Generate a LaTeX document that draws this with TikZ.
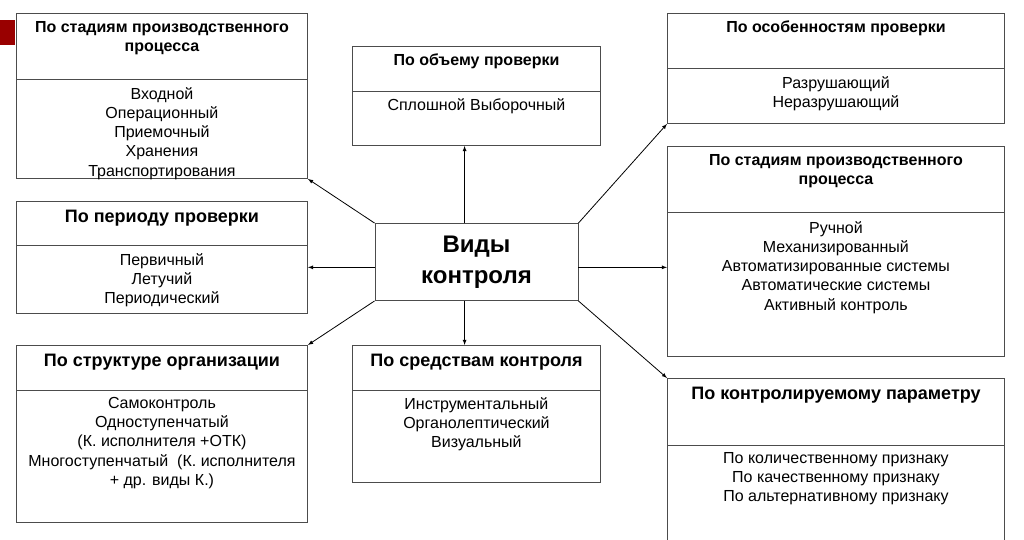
\documentclass[tikz,border=0pt]{standalone}
\usepackage{fontspec}
\setmainfont{Liberation Sans}
\usetikzlibrary{arrows,calc,positioning}

\tikzset{
  panel/.style={draw=black!70, line width=0.9pt, anchor=north west, inner sep=0pt},
  head/.style={font=\bfseries\fontsize{16}{19.3}\selectfont, align=center, inner sep=0pt},
  bighead/.style={head, font=\bfseries\fontsize{18}{21}\selectfont},
  items/.style={font=\fontsize{16}{19.3}\selectfont, align=center, inner sep=0pt},
  split/.style={draw=black!70, line width=0.9pt},
  link/.style={-latex, line width=0.8pt},
}

\begin{document}
\begin{tikzpicture}[x=1pt,y=-1pt]
\useasboundingbox (0,0) rectangle (1024,539);
\fill[red!60!black] (0,20) rectangle (15,45);

% centre
\node[draw=black!70, line width=0.9pt, minimum width=203pt, minimum height=77pt,
      font=\bfseries\fontsize{24}{31}\selectfont, align=center] (kinds) at (476.5,262) {Виды\\контроля};

% left column
\node[panel, minimum width=291pt, minimum height=165pt] (stages) at (16,13) {};
\coordinate (stagesD) at ($(stages.north)+(0,66)$);
\draw[split] (stagesD -| stages.west) -- (stagesD -| stages.east);
\node[head, below=8pt of stages.north] (stagesT) {По стадиям производственного\\процесса};
\node[items, below=8pt of stagesD] (stagesI) {Входной\\Операционный\\Приемочный\\Хранения\\Транспортирования};

\node[panel, minimum width=291pt, minimum height=112pt] (period) at (16,201) {};
\coordinate (periodD) at ($(period.north)+(0,44)$);
\draw[split] (periodD -| period.west) -- (periodD -| period.east);
\node[bighead, below=9pt of period.north] (periodT) {По периоду проверки};
\node[items, below=8pt of periodD] (periodI) {Первичный\\Летучий\\Периодический};

\node[panel, minimum width=291pt, minimum height=177pt] (structure) at (16,345) {};
\coordinate (structureD) at ($(structure.north)+(0,45)$);
\draw[split] (structureD -| structure.west) -- (structureD -| structure.east);
\node[bighead, below=9pt of structure.north] (structureT) {По структуре организации};
\node[items, below=7pt of structureD] (structureI) {Самоконтроль\\Одноступенчатый\\(К. исполнителя +ОТК)\\Многоступенчатый\ \ (К. исполнителя\\+ др. виды К.)};

% middle column
\node[panel, minimum width=248pt, minimum height=99pt] (volume) at (352,46) {};
\coordinate (volumeD) at ($(volume.north)+(0,45)$);
\draw[split] (volumeD -| volume.west) -- (volumeD -| volume.east);
\node[head, below=8pt of volume.north] (volumeT) {По объему проверки};
\node[items, below=7pt of volumeD] (volumeI) {Сплошной Выборочный};

\node[panel, minimum width=248pt, minimum height=137pt] (tools) at (352,345) {};
\coordinate (toolsD) at ($(tools.north)+(0,45)$);
\draw[split] (toolsD -| tools.west) -- (toolsD -| tools.east);
\node[bighead, below=9pt of tools.north] (toolsT) {По средствам контроля};
\node[items, below=7pt of toolsD] (toolsI) {Инструментальный\\Органолептический\\Визуальный};

% right column
\node[panel, minimum width=337pt, minimum height=110pt] (features) at (667,13) {};
\coordinate (featuresD) at ($(features.north)+(0,55)$);
\draw[split] (featuresD -| features.west) -- (featuresD -| features.east);
\node[head, below=8pt of features.north] (featuresT) {По особенностям проверки};
\node[items, below=8pt of featuresD] (featuresI) {Разрушающий\\Неразрушающий};

\node[panel, minimum width=337pt, minimum height=210pt] (mech) at (667,146) {};
\coordinate (mechD) at ($(mech.north)+(0,66)$);
\draw[split] (mechD -| mech.west) -- (mechD -| mech.east);
\node[head, below=8pt of mech.north] (mechT) {По стадиям производственного\\процесса};
\node[items, below=9pt of mechD] (mechI) {Ручной\\Механизированный\\Автоматизированные системы\\Автоматические системы\\Активный контроль};

\node[panel, minimum width=337pt, minimum height=172pt] (param) at (667,378) {};
\coordinate (paramD) at ($(param.north)+(0,67)$);
\draw[split] (paramD -| param.west) -- (paramD -| param.east);
\node[bighead, below=9pt of param.north] (paramT) {По контролируемому параметру};
\node[items, below=7pt of paramD] (paramI) {По количественному признаку\\По качественному признаку\\По альтернативному признаку};

% arrows
\draw[link] (kinds.north west) -- (stages.south east);
\draw[link] (kinds.183) -- (kinds.183 -| period.east);
\draw[link] (kinds.south west) -- (structure.north east);
\draw[link] (kinds.107) -- (kinds.107 |- volume.south);
\draw[link] (kinds.253) -- (kinds.253 |- tools.north);
\draw[link] (kinds.north east) -- (features.south west);
\draw[link] (kinds.-3) -- (kinds.-3 -| mech.west);
\draw[link] (kinds.south east) -- (param.north west);
\end{tikzpicture}
\end{document}
